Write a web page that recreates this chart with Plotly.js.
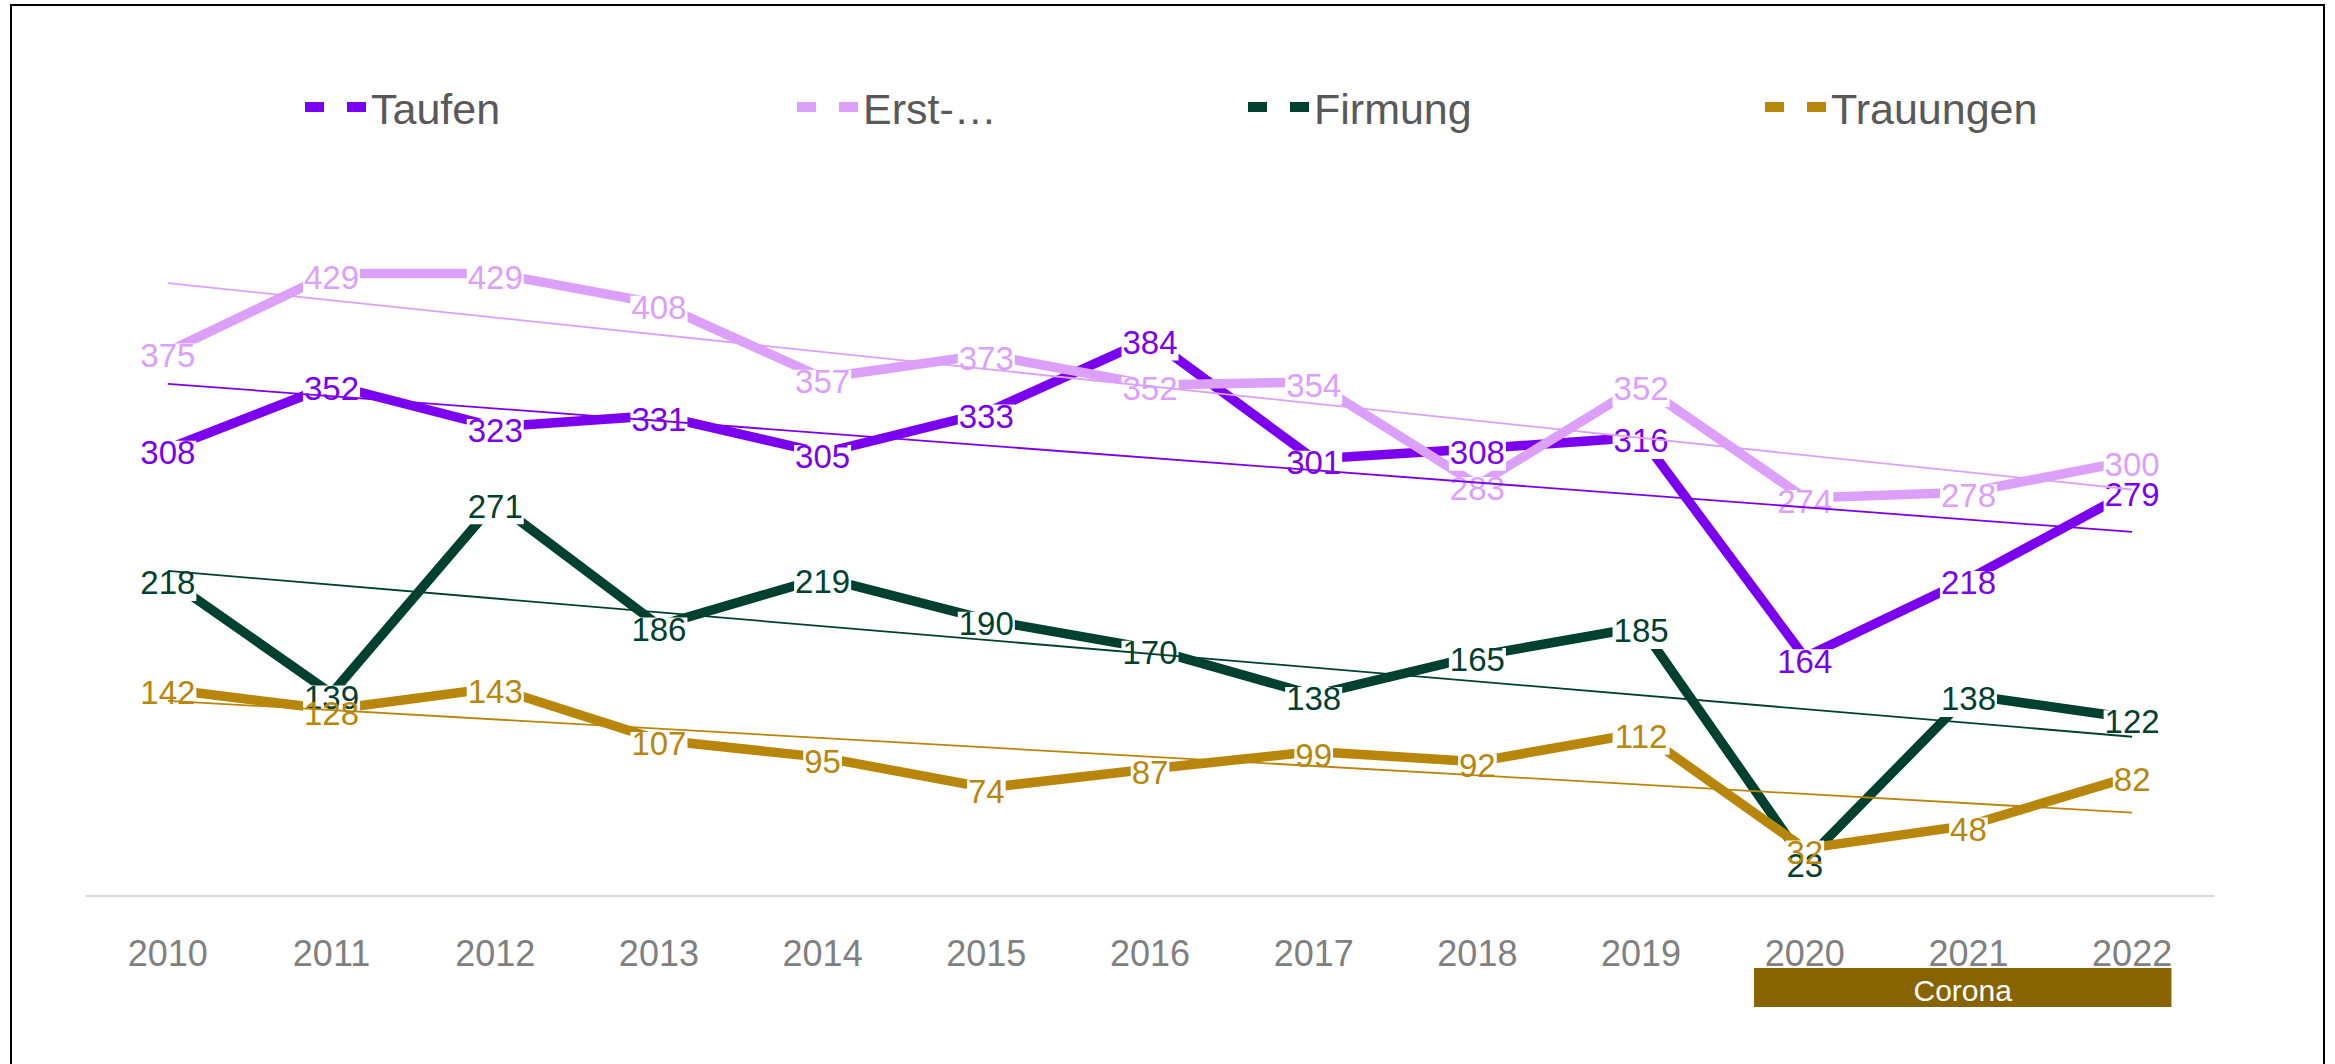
<!DOCTYPE html>
<html><head><meta charset="utf-8">
<script src="https://cdn.plot.ly/plotly-3.0.1.min.js"></script>
<style>
html,body{margin:0;padding:0;background:#fff;overflow:hidden}
#frame{position:absolute;left:10px;top:4px;width:2315px;height:1100px;border:2px solid #000;box-sizing:border-box;pointer-events:none}
</style></head><body>
<div id="chart" style="width:2335px;height:1064px"></div>
<div id="frame"></div>
<script>
const years = [2010,2011,2012,2013,2014,2015,2016,2017,2018,2019,2020,2021,2022];
const taufen    = [308,352,323,331,305,333,384,301,308,316,164,218,279];
const erst      = [375,429,429,408,357,373,352,354,283,352,274,278,300];
const firmung   = [218,139,271,186,219,190,170,138,165,185,23,138,122];
const trauungen = [142,128,143,107,95,74,87,99,92,112,32,48,82];
const seriesNames = ['Taufen','Erst-…','Firmung','Trauungen'];
const coronaLabel = 'Corona';
const coronaStart = 2019.69, coronaEnd = 2022.24;

const allSeries = [taufen, erst, firmung, trauungen];
const colors = ['#7c00f0','#dca0fa','#00402f','#b8860b'];
const FONT = 'Liberation Sans, Arial, sans-serif';
const LABEL_SIZE = 33;

function fit(ys){
  const n = ys.length; let sx=0,sy=0,sxx=0,sxy=0;
  ys.forEach((y,i)=>{sx+=i;sy+=y;sxx+=i*i;sxy+=i*y;});
  const b=(n*sxy-sx*sy)/(n*sxx-sx*sx); const a=(sy-b*sx)/n;
  return [a, a+b*(n-1)];
}

const traces = [];
// series lines
allSeries.forEach((s,i)=>{
  traces.push({x:years,y:s,mode:'lines',line:{color:colors[i],width:9.5},showlegend:false,hoverinfo:'skip',yaxis:'y'});
});
// white boxes behind the labels (break the lines around each label); line-ew length = 1.4 * size
allSeries.forEach((s,i)=>{
  traces.push({x:years,y:s,mode:'markers',
    marker:{symbol:'line-ew',size:s.map(v=>(String(v).length*LABEL_SIZE*0.556+2)/1.4),color:'#ffffff',opacity:1,
      line:{color:'#ffffff',width:30}},
    showlegend:false,hoverinfo:'skip',yaxis:'y2'});
});
// labels
allSeries.forEach((s,i)=>{
  traces.push({x:years,y:s,mode:'text',text:s.map(String),textposition:'middle center',
    textfont:{family:FONT,size:LABEL_SIZE,color:colors[i]},showlegend:false,hoverinfo:'skip',yaxis:'y2'});
});
// legend entries
const legendIds = ['legend','legend2','legend3','legend4'];
allSeries.forEach((s,i)=>{
  traces.push({x:[null],y:[null],mode:'lines',name:seriesNames[i],line:{color:colors[i],width:10,dash:'19px,23px'},
    legend:legendIds[i],showlegend:true,hoverinfo:'skip'});
});

// linear trend lines
const shapes = allSeries.map((s,i)=>{
  const [y0,y1] = fit(s);
  return {type:'line',xref:'x',yref:'y',x0:years[0],x1:years[years.length-1],y0:y0,y1:y1,layer:'above',
    line:{color:colors[i],width:1.8}};
});
shapes.push({type:'rect',xref:'x',yref:'paper',x0:coronaStart,x1:coronaEnd,y0:-0.1645,y1:-0.1072,
  fillcolor:'#886400',line:{width:0},layer:'above',
  label:{text:coronaLabel,font:{family:FONT,size:30,color:'#ffffff'},textposition:'middle center'}});

const legX = [300,792,1243,1760];
const layout = {
  width:2335,height:1064,
  margin:{l:86,r:121,t:214,b:169,autoexpand:false},
  paper_bgcolor:'#fff',plot_bgcolor:'#fff',
  font:{family:FONT},
  xaxis:{range:[2009.5,2022.5],tickvals:years,ticktext:years.map(String),showline:true,linecolor:'#d9d9d9',linewidth:2,
    showgrid:false,zeroline:false,ticks:'',tickfont:{size:36,color:'#808080'},ticklabelstandoff:26,fixedrange:true},
  yaxis:{range:[0,470],showgrid:false,zeroline:false,showticklabels:false,showline:false,fixedrange:true},
  yaxis2:{range:[4.8,474.8],overlaying:'y',showgrid:false,zeroline:false,showticklabels:false,showline:false,fixedrange:true},
  shapes:shapes,
  showlegend:true
};
legendIds.forEach((id,i)=>{
  layout[id] = {x:legX[i]/2335,xref:'container',y:1-107/1064,yref:'container',xanchor:'left',yanchor:'middle',
    font:{family:FONT,size:43,color:'#595959'},itemwidth:61,bgcolor:'rgba(0,0,0,0)',borderwidth:0};
});
Plotly.newPlot('chart',traces,layout,{displayModeBar:false,staticPlot:true});
</script>
</body></html>
